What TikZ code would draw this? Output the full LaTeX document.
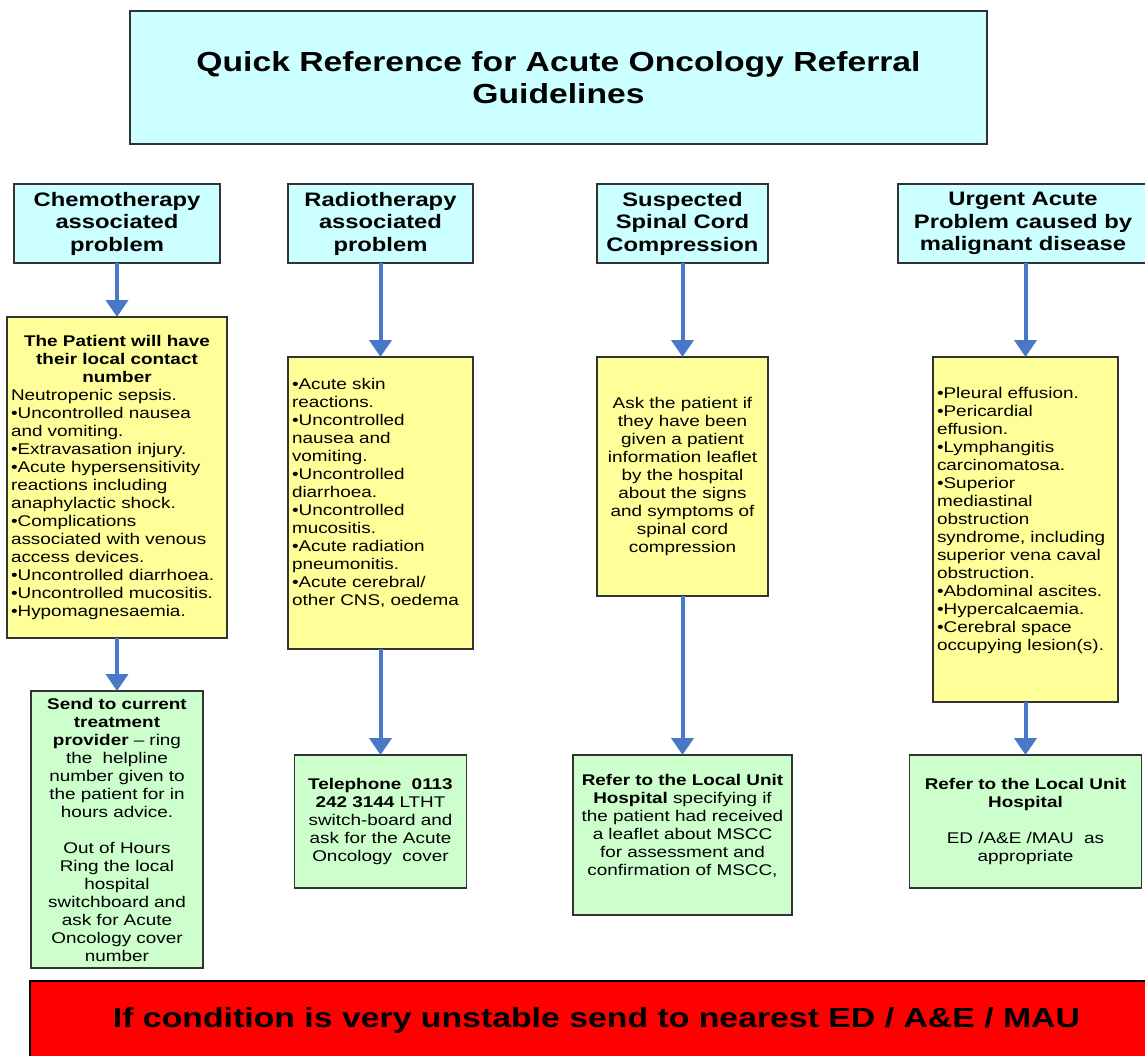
\documentclass[tikz,border=0pt]{standalone}
\usepackage{fontspec}
\setmainfont{Liberation Sans}[FakeStretch=1.22]
\usetikzlibrary{arrows.meta}
\definecolor{titlecyan}{HTML}{CCFFFF}
\definecolor{noteyellow}{HTML}{FFFF99}
\definecolor{actiongreen}{HTML}{CCFFCC}
\definecolor{flowblue}{RGB}{74,120,200}

\begin{document}
\begin{tikzpicture}[x=0.5pt, y=-0.5pt,
  box/.style={draw=black!80, line width=0.75pt, inner xsep=2pt, inner ysep=0pt, outer sep=0pt},
  head/.style={box, fill=titlecyan, align=center, font=\fontsize{9.75}{11.25}\selectfont\bfseries},
  note/.style={box, fill=noteyellow, font=\fontsize{7.75}{9}\selectfont},
  act/.style={box, fill=actiongreen, align=center, font=\fontsize{7.75}{9}\selectfont},
  flow/.style={draw=flowblue, line width=2pt, -{Triangle[width=11pt,length=8.5pt]}}]
  \useasboundingbox (0,0) rectangle (1145,1055);

  % Title
  \node[head, font=\fontsize{13.8}{16}\selectfont\bfseries, minimum width=428.5pt, minimum height=66.5pt]
    (title) at (558.5,77.5) {Quick Reference for Acute Oncology Referral\\ Guidelines};

  % Column headers
  \node[head, minimum width=103pt, minimum height=39.5pt] (h1) at (117,223.5)
    {Chemotherapy\\ associated\\ problem};
  \node[head, minimum width=92.5pt, minimum height=39.5pt] (h2) at (380.5,223.5)
    {Radiotherapy\\ associated\\ problem};
  \node[head, minimum width=85.5pt, minimum height=39.5pt] (h3) at (682.5,223.5)
    {Suspected\\ Spinal Cord\\ Compression};
  \node[head, minimum width=125pt, minimum height=39.5pt] (h4) at (1023,223.5)
    {Urgent Acute\\ Problem caused by\\ malignant disease};

  % Problem lists
  \node[note, align=left, text width=106pt, minimum height=160.5pt] (y1) at (117,477.5)
    {{\centering\bfseries The Patient will have\\ their local contact\\ number\par}
     Neutropenic sepsis.\\ •Uncontrolled nausea\\ and vomiting.\\ •Extravasation injury.\\
     •Acute hypersensitivity\\ reactions including\\ anaphylactic shock.\\ •Complications\\
     associated with venous\\ access devices.\\ •Uncontrolled diarrhoea.\\
     •Uncontrolled mucositis.\\ •Hypomagnesaemia.};
  \node[note, align=left, text width=88.5pt, minimum height=146pt] (y2) at (380.5,503)
    {•Acute skin\\ reactions.\\ •Uncontrolled\\ nausea and\\ vomiting.\\ •Uncontrolled\\
     diarrhoea.\\ •Uncontrolled\\ mucositis.\\ •Acute radiation\\ pneumonitis.\\
     •Acute cerebral/\\ other CNS, oedema\\[2pt]\mbox{}};
  \node[note, align=center, text width=81.5pt, minimum height=119.5pt] (y3) at (682.5,476.5)
    {Ask the patient if\\ they have been\\ given a patient\\ information leaflet\\ by the hospital\\
     about the signs\\ and symptoms of\\ spinal cord\\ compression};
  \node[note, align=left, text width=88.5pt, minimum height=172.5pt] (y4) at (1025.5,529.5)
    {•Pleural effusion.\\ •Pericardial\\ effusion.\\ •Lymphangitis\\ carcinomatosa.\\ •Superior\\
     mediastinal\\ obstruction\\ syndrome, including\\ superior vena caval\\ obstruction.\\
     •Abdominal ascites.\\ •Hypercalcaemia.\\ •Cerebral space\\ occupying lesion(s).\\[2pt]\mbox{}};

  % Actions
  \node[act, text width=82pt, minimum height=138.5pt] (g1) at (117,829.5)
    {\textbf{Send to current\\ treatment\\ provider} – ring\\ the\ \ helpline\\ number given to\\
     the patient for in\\ hours advice.\\[9pt] Out of Hours\\ Ring the local\\ hospital\\
     switchboard and\\ ask for Acute\\ Oncology cover\\ number};
  \node[act, text width=82pt, minimum height=66.5pt] (g2) at (380.5,821.5)
    {\textbf{Telephone\ \ 0113\\ 242 3144} LTHT\\ switch-board and\\ ask for the Acute\\ Oncology\ \ cover};
  \node[act, text width=105.5pt, minimum height=80pt] (g3) at (682.5,835)
    {\textbf{Refer to the Local Unit\\ Hospital} specifying if\\ the patient had received\\
     a leaflet about MSCC\\ for assessment and\\ confirmation of MSCC,\\[1pt]\mbox{}};
  \node[act, text width=112pt, minimum height=66.5pt] (g4) at (1025.5,821.5)
    {\textbf{Refer to the Local Unit\\ Hospital}\\[9pt] ED /A\&E /MAU\ \ as\\ appropriate};

  % Warning banner
  \node[box, fill=red, draw=black, font=\fontsize{13.85}{16}\selectfont\bfseries,
    minimum width=566.5pt, minimum height=39pt] (alert) at (596.5,1020)
    {If condition is very unstable send to nearest ED / A\&E / MAU};

  % Arrows
  \draw[flow] (h1) -- (y1);
  \draw[flow] (y1) -- (g1);
  \draw[flow] (h2) -- (y2);
  \draw[flow] (y2) -- (g2);
  \draw[flow] (h3) -- (y3);
  \draw[flow] (y3) -- (g3);
  \draw[flow] (h4.south -| y4.north) -- (y4.north);
  \draw[flow] (y4) -- (g4);
\end{tikzpicture}
\end{document}
